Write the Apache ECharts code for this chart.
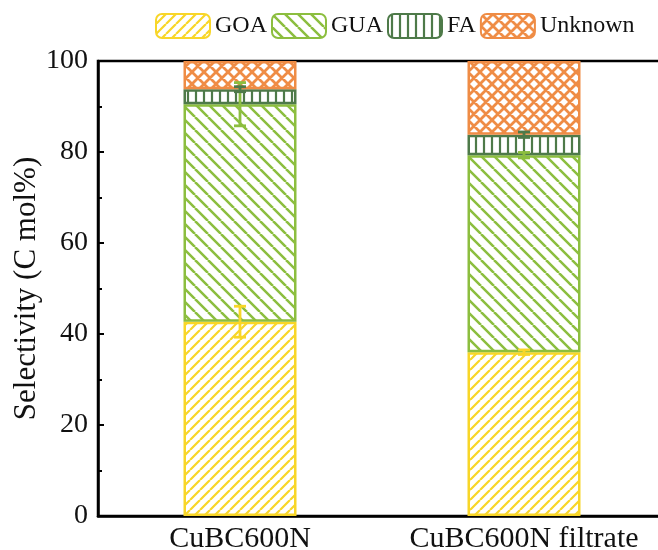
<!DOCTYPE html>
<html>
<head>
<meta charset="utf-8">
<script src="https://cdn.jsdelivr.net/npm/echarts@6/dist/echarts.min.js"></script>
<style>
  html, body { margin: 0; padding: 0; background: #fff; }
  #main { width: 658px; height: 550px; }
</style>
</head>
<body>
<div id="main"></div>
<script>
// 数据
var categories = ['CuBC600N', 'CuBC600N filtrate'];
var seriesNames = ['GOA', 'GUA', 'FA', 'Unknown'];
var goa = [42.7, 36.0];
var gua = [47.8, 43.3];
var fa = [3.3, 4.5];
var unknown = [6.2, 16.2];
var goaErr = [3.4, 0.5];
var guaErr = [4.75, 0.6];
var faErr = [0.55, 0.6];

var colors = ['#F8D628', '#8CBE3F', '#4E7A49', '#EF8C45'];

// 填充图案
function makePattern(type, color, p, lw) {
    var c = document.createElement('canvas');
    c.width = p;
    c.height = p;
    var ctx = c.getContext('2d');
    ctx.strokeStyle = color;
    ctx.lineWidth = lw;
    ctx.beginPath();
    if (type === 'vert') {
        ctx.moveTo(p / 2, 0);
        ctx.lineTo(p / 2, p);
    }
    if (type === 'fwd' || type === 'cross') {
        for (var k = -1; k <= 1; k++) {
            ctx.moveTo(k * p, p);
            ctx.lineTo(k * p + p, 0);
        }
    }
    if (type === 'back' || type === 'cross') {
        for (var k2 = -1; k2 <= 1; k2++) {
            ctx.moveTo(k2 * p, 0);
            ctx.lineTo(k2 * p + p, p);
        }
    }
    ctx.stroke();
    return { image: c, repeat: 'repeat' };
}

var patterns = [
    makePattern('fwd', colors[0], 10, 2.2),
    makePattern('back', colors[1], 13, 2.5),
    makePattern('vert', colors[2], 8, 2.2),
    makePattern('cross', colors[3], 12, 2.8)
];

var values = [goa, gua, fa, unknown];

// 误差棒数据: [类别, 堆叠顶部, 误差]
function errData(idx, errs) {
    var out = [];
    for (var i = 0; i < categories.length; i++) {
        var top = 0;
        for (var s = 0; s <= idx; s++) top += values[s][i];
        out.push([i, top, errs[i]]);
    }
    return out;
}

function errSeries(idx, errs) {
    return {
        type: 'custom',
        z: 10,
        data: errData(idx, errs),
        renderItem: function (params, api) {
            var x = api.value(0);
            var y = api.value(1);
            var e = api.value(2);
            var hi = api.coord([x, y + e]);
            var lo = api.coord([x, y - e]);
            var w = 6;
            var style = { stroke: colors[idx], lineWidth: 2.8 };
            return {
                type: 'group',
                children: [
                    { type: 'line', shape: { x1: hi[0], y1: hi[1], x2: lo[0], y2: lo[1] }, style: style },
                    { type: 'line', shape: { x1: hi[0] - w, y1: hi[1], x2: hi[0] + w, y2: hi[1] }, style: style },
                    { type: 'line', shape: { x1: lo[0] - w, y1: lo[1], x2: lo[0] + w, y2: lo[1] }, style: style }
                ]
            };
        }
    };
}

var barSeries = seriesNames.map(function (name, i) {
    return {
        name: name,
        type: 'bar',
        stack: 'total',
        barWidth: 113,
        data: values[i],
        itemStyle: {
            color: patterns[i],
            borderColor: colors[i],
            borderWidth: 2.5
        }
    };
});

var myChart = echarts.init(document.getElementById('main'));
var font = '"Liberation Serif", "Times New Roman", serif';
var option = {
    animation: false,
    textStyle: { fontFamily: font },
    legend: {
        data: seriesNames,
        top: 8,
        left: 150,
        itemWidth: 54,
        itemHeight: 24,
        itemGap: 4,
        textStyle: { fontFamily: font, fontSize: 24, color: '#111' }
    },
    grid: {
        left: 98,
        top: 61,
        width: 568,
        height: 455,
        outerBoundsMode: 'none',
        containLabel: false,
        show: true,
        borderColor: '#000',
        borderWidth: 2.5
    },
    xAxis: {
        type: 'category',
        data: categories,
        axisLine: { lineStyle: { color: '#000', width: 2.5 } },
        axisTick: { show: false },
        axisLabel: { color: '#111', fontSize: 30, margin: 8, interval: 0, fontFamily: font }
    },
    yAxis: {
        type: 'value',
        min: 0,
        max: 100,
        interval: 20,
        name: 'Selectivity (C mol%)',
        nameLocation: 'middle',
        nameGap: 56,
        nameMoveOverlap: false,
        nameTextStyle: { fontSize: 31, color: '#111', fontFamily: font },
        axisLine: { show: true, lineStyle: { color: '#000', width: 2.5 } },
        axisTick: { show: true, inside: true, length: 6, lineStyle: { color: '#000', width: 2 } },
        minorTick: { show: true, splitNumber: 2, length: 4, lineStyle: { color: '#000', width: 2 } },
        splitLine: { show: false },
        axisLabel: { color: '#111', fontSize: 28, margin: 10, fontFamily: font }
    },
    series: barSeries.concat([
        errSeries(0, goaErr),
        errSeries(1, guaErr),
        errSeries(2, faErr)
    ])
};
myChart.setOption(option);
</script>
</body>
</html>
